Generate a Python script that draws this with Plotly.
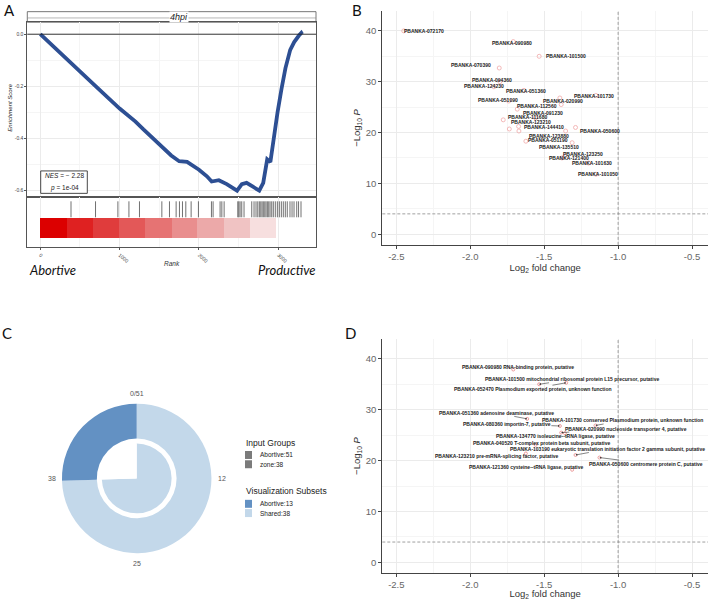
import math
import plotly.graph_objects as go

W, H = 708, 600


def PX(x):
    return x / W


def PY(y):
    return 1 - y / H


SANS = "Liberation Sans, Arial, sans-serif"
CALI = "Lato, Carlito, sans-serif"

# ---------------- Panel A : GSEA running enrichment score ----------------
rank_curve = [0, 500, 700, 1000, 1200, 1300, 1500, 1650, 1750, 1850, 2000, 2100, 2160,
              2250, 2350, 2480, 2540, 2600, 2680, 2760, 2810, 2840, 2860, 2900, 2940,
              2990, 3040, 3090, 3150, 3200, 3260, 3290, 3300]
es_curve = [0.0, -0.14, -0.2, -0.285, -0.335, -0.365, -0.425, -0.465, -0.487, -0.49, -0.52,
            -0.545, -0.565, -0.56, -0.575, -0.60, -0.575, -0.57, -0.585, -0.60, -0.57,
            -0.52, -0.48, -0.49, -0.40, -0.30, -0.21, -0.13, -0.06, -0.03, -0.005, 0.005, 0.0]
hit_ranks = [387, 696, 978, 1117, 1250, 1532, 1628, 1712, 1754, 1792, 1834, 1901, 1993,
             2157, 2178, 2266, 2288, 2317, 2489, 2502, 2518, 2539, 2568, 2665, 2694, 2719,
             2741, 2761, 2779, 2795, 2811, 2829, 2845, 2862, 2879, 2896, 2917, 2937, 2962,
             2988, 3013, 3038, 3063, 3088, 3113, 3147, 3173, 3198, 3232, 3255, 3286]
bar_edges = [0, 336, 663, 994, 1322, 1658, 1985, 2316, 2644, 2971]
bar_colors = ["#dc0000", "#df2121", "#e03c3c", "#e35858", "#e67373", "#e98e8e",
              "#eca9a9", "#f0c3c3", "#f7dfdf"]
a_xticks = [0, 1000, 2000, 3000]
a_yticks = [0.0, -0.2, -0.4, -0.6]
a_yticktext = ["0.0", "-0.2", "-0.4", "-0.6"]
nes_value = "2.28"
p_value = "1e-04"
facet_title = "4hpi"

# ---------------- Panel B : volcano, gene IDs ----------------
genes_b = ["PBANKA-072170", "PBANKA-090980", "PBANKA-101500", "PBANKA-070390",
           "PBANKA-094360", "PBANKA-124230", "PBANKA-051360", "PBANKA-101730",
           "PBANKA-020990", "PBANKA-051090", "PBANKA-112560", "PBANKA-091230",
           "PBANKA-111680", "PBANKA-123210", "PBANKA-144410", "PBANKA-050600",
           "PBANKA-123880", "PBANKA-051190", "PBANKA-135510", "PBANKA-123250",
           "PBANKA-121400", "PBANKA-101630", "PBANKA-101050"]
fc_b = [-2.45, -1.709, -1.534, -1.804, -1.80, -1.84, -1.637, -1.15, -1.394, -1.74,
        -1.682, -1.558, -1.777, -1.673, -1.355, -1.288, -1.671, -1.624, -1.311, -1.36,
        -1.38, -1.20, -1.15]
nlp_b = [40.0, 37.9, 35.0, 32.7, 30.0, 29.0, 28.3, 27.3, 26.8, 26.2, 24.6, 22.9, 22.5,
         21.2, 20.3, 21.0, 20.3, 18.3, 18.0, 15.4, 15.0, 14.0, 11.8]
lab_dx_b = [20, -1, 27, -28, -8, -10, 2, -2, 3, -11, 20, 7, 24, 12, -22, 24, 30, 22,
            -13, 18, 7, 3, 2]
lab_dy_b = [0, -1, 0, 3, 2, 1, -1, -1, -3, 1, 3, 5, 3, 4, 4, -4, -5, 1, -4, 2, 0, 0, 0]
extra_fc_b = [-1.736, -1.385]
extra_nlp_b = [20.7, 25.5]

# ---------------- Panel D : volcano, annotated genes ----------------
desc_d = ["PBANKA-090980 RNA-binding protein, putative",
          "PBANKA-101500 mitochondrial ribosomal protein L15 precursor, putative",
          "PBANKA-052470 Plasmodium exported protein, unknown function",
          "PBANKA-051360 adenosine deaminase, putative",
          "PBANKA-101730 conserved Plasmodium protein, unknown function",
          "PBANKA-080360 importin-7, putative",
          "PBANKA-020990 nucleoside transporter 4, putative",
          "PBANKA-134770 isoleucine--tRNA ligase, putative",
          "PBANKA-040520 T-complex protein beta subunit, putative",
          "PBANKA-103190 eukaryotic translation initiation factor 2 gamma subunit, putative",
          "PBANKA-123210 pre-mRNA-splicing factor, putative",
          "PBANKA-050600 centromere protein C, putative",
          "PBANKA-121360 cysteine--tRNA ligase, putative"]
fc_d = [-1.709, -1.534, -1.351, -1.615, -1.153, -1.394, -1.385, -1.36, -1.558, -1.288,
        -1.624, -1.126, -1.311]
nlp_d = [37.9, 35.0, 35.3, 28.2, 26.9, 26.8, 25.5, 25.4, 23.1, 21.1, 21.4, 20.6, 18.2]
lab_dx_d = [5, 33, -33, -31, 27, -53, 65, -9, 6, 32, -29, 47, -46]
lab_dy_d = [3, 5, -6, 6, 5, 2, 4, -3, 2, 6, -3, -6, 3]

v_xticks = [-2.5, -2.0, -1.5, -1.0, -0.5]
v_xticktext = ["-2.5", "-2.0", "-1.5", "-1.0", "-0.5"]
v_yticks = [0, 10, 20, 30, 40]
fc_cutoff = -1.0
p_cutoff = 4.0

# ---------------- Panel C : donut ----------------
outer_labels = ["Shared", "Abortive"]
outer_values = [38, 13]
outer_colors = ["#c3d8ea", "#6391c3"]
inner_labels = ["zone", "zone-absent"]
inner_values = [38, 13]
inner_colors = ["#c3d8ea", "#ffffff"]
ring_total = 51
ring_tick_vals = [0, 12.75, 25.5, 38.25]
ring_tick_text = ["0/51", "12", "25", "38"]
legend_groups = [("Input Groups", [("Abortive:51", "#7b7b7b"), ("zone:38", "#7b7b7b")]),
                 ("Visualization Subsets", [("Abortive:13", "#6391c3"), ("Shared:38", "#c3d8ea")])]

fig = go.Figure()

# --- A traces
fig.add_trace(go.Scatter(x=rank_curve, y=es_curve, mode="lines", xaxis="x", yaxis="y",
                         line=dict(color="#2d4f93", width=3.8), hoverinfo="skip",
                         showlegend=False))
hx, hy = [], []
for r in hit_ranks:
    hx += [r, r, None]
    hy += [0.594, 0.908, None]
fig.add_trace(go.Scatter(x=hx, y=hy, mode="lines", xaxis="x2", yaxis="y2",
                         line=dict(color="#333333", width=0.7), showlegend=False,
                         hoverinfo="skip"))
centers = [(a + b) / 2 for a, b in zip(bar_edges[:-1], bar_edges[1:])]
widths = [b - a for a, b in zip(bar_edges[:-1], bar_edges[1:])]
fig.add_trace(go.Bar(x=centers, y=[0.404] * len(centers), base=0.19, width=widths,
                     marker=dict(color=bar_colors, line=dict(width=0)), xaxis="x2",
                     yaxis="y2", showlegend=False, hoverinfo="skip"))

# --- B traces
fig.add_trace(go.Scatter(x=fc_b + extra_fc_b, y=nlp_b + extra_nlp_b, mode="markers",
                         xaxis="x3", yaxis="y3",
                         marker=dict(symbol="circle-open", size=4, color="#f0a8a8",
                                     line=dict(width=0.8)),
                         showlegend=False, hoverinfo="skip"))
# --- D traces
fig.add_trace(go.Scatter(x=fc_d, y=nlp_d, mode="markers", xaxis="x4", yaxis="y4",
                         marker=dict(symbol="circle-open", size=3, color="#e88888",
                                     line=dict(width=0.8)),
                         showlegend=False, hoverinfo="skip"))

# --- C pies
cx, cy, r_out, r_in = 136.7, 480, 75, 35
fig.add_trace(go.Pie(values=outer_values, labels=outer_labels, hole=40 / 75, sort=False,
                     direction="clockwise", rotation=0, textinfo="none",
                     marker=dict(colors=outer_colors, line=dict(width=0)),
                     domain=dict(x=[PX(cx - r_out), PX(cx + r_out)],
                                 y=[PY(cy + r_out), PY(cy - r_out)]),
                     showlegend=False, hoverinfo="skip"))
fig.add_trace(go.Pie(values=inner_values, labels=inner_labels, sort=False,
                     direction="clockwise", rotation=0, textinfo="none",
                     marker=dict(colors=inner_colors, line=dict(width=0)),
                     domain=dict(x=[PX(cx - r_in), PX(cx + r_in)],
                                 y=[PY(cy + r_in), PY(cy - r_in)]),
                     showlegend=False, hoverinfo="skip"))

GRID = "#ebebeb"
MINOR = "#f5f5f5"
FRAME = "#555555"

axA_x = dict(domain=[PX(27.3), PX(316)], range=[-164, 3475], showgrid=True, gridcolor=GRID,
             tickvals=a_xticks, zeroline=False, showline=True, mirror=True,
             linecolor=FRAME, linewidth=0.8,
             minor=dict(dtick=500, tick0=0, showgrid=True, gridcolor=MINOR))
layout = dict(
    width=W, height=H, margin=dict(l=0, r=0, t=0, b=0), paper_bgcolor="white",
    plot_bgcolor="white", showlegend=False, bargap=0,
    xaxis=dict(axA_x, anchor="y", showticklabels=False, ticks=""),
    yaxis=dict(domain=[PY(197.3), PY(22.3)], range=[-0.623, 0.046], tickvals=a_yticks,
               ticktext=a_yticktext, tickfont=dict(size=5, color="#444", family=SANS),
               ticks="outside", ticklen=2, tickcolor=FRAME, showgrid=True, gridcolor=GRID,
               zeroline=False, showline=True, mirror=True, linecolor=FRAME, linewidth=0.8,
               anchor="x",
               minor=dict(tickvals=[-0.1, -0.3, -0.5], showgrid=True, gridcolor=MINOR)),
    xaxis2=dict(axA_x, anchor="y2", matches="x", ticks="outside", ticklen=2,
                tickcolor=FRAME, tickangle=40,
                tickfont=dict(size=5, color="#444", family=SANS)),
    yaxis2=dict(domain=[PY(248.3), PY(197.3)], range=[0, 1], showticklabels=False,
                showgrid=False, zeroline=False, showline=True, mirror=True,
                linecolor=FRAME, linewidth=0.8, anchor="x2", ticks=""),
)

vol_x = dict(range=[-2.595, -0.392], tickvals=v_xticks, ticktext=v_xticktext,
             showgrid=True, gridcolor=GRID, zeroline=False, showline=True,
             linecolor="#444", linewidth=1, ticks="outside", ticklen=3, tickcolor="#444",
             tickfont=dict(size=9.5, color="#666", family=SANS),
             minor=dict(dtick=0.25, tick0=-2.5, showgrid=True, gridcolor=MINOR),
             title=dict(text="Log<sub>2</sub> fold change", standoff=3,
                        font=dict(size=9.5, color="#333", family=SANS)))
vol_y = dict(range=[-2.1, 43.92], tickvals=v_yticks, showgrid=True, gridcolor=GRID,
             zeroline=False, showline=True, linecolor="#444", linewidth=1,
             ticks="outside", ticklen=3, tickcolor="#444",
             tickfont=dict(size=9.5, color="#666", family=SANS),
             minor=dict(dtick=5, tick0=0, showgrid=True, gridcolor=MINOR),
             title=dict(text="−Log<sub>10</sub> <i>P</i>", standoff=3,
                        font=dict(size=9.5, color="#333", family=SANS)))
layout["xaxis3"] = dict(vol_x, domain=[PX(382.3), 1.0], anchor="y3")
layout["yaxis3"] = dict(vol_y, domain=[PY(245.7), PY(11)], anchor="x3")
layout["xaxis4"] = dict(vol_x, domain=[PX(382.3), 1.0], anchor="y4")
layout["yaxis4"] = dict(vol_y, domain=[PY(575), PY(340)], anchor="x4")

shapes = []
ann = []


def text_at(x, y, text, size, family=SANS, color="#222", xanchor="center", **kw):
    ann.append(dict(x=PX(x), y=PY(y), xref="paper", yref="paper", text=text,
                    showarrow=False, xanchor=xanchor, yanchor="middle",
                    font=dict(size=size, family=family, color=color), **kw))


# A : zero line
shapes.append(dict(type="line", xref="x domain", yref="y", x0=0, x1=1, y0=0, y1=0,
                   line=dict(color="#222", width=0.9)))
# A : facet strip
shapes.append(dict(type="rect", xref="paper", yref="paper", x0=PX(27.3), x1=PX(316),
                   y0=PY(22.3), y1=PY(11.7), line=dict(color=FRAME, width=0.8),
                   fillcolor="white", layer="below"))
shapes.append(dict(type="line", xref="paper", yref="paper", x0=PX(27.3), x1=PX(316),
                   y0=PY(18), y1=PY(18), line=dict(color="#888", width=0.6)))
text_at(179, 17, f"<i>{facet_title}</i>", 9, bgcolor="white", borderpad=0)
# A : NES box
shapes.append(dict(type="rect", xref="paper", yref="paper", x0=PX(40.7), x1=PX(87.3),
                   y0=PY(194), y1=PY(171.5), line=dict(color="#333", width=0.9),
                   fillcolor="white"))
text_at(64, 176.5, f"<i>NES</i> = − {nes_value}", 6.5)
text_at(64, 189, f"<i>p</i> = {p_value}", 6.5)
# A : axis titles and side labels
text_at(10, 108, "<i>Enrichment Score</i>", 6, textangle=-90)
text_at(172, 264, "<i>Rank</i>", 6.5, color="#333")
text_at(26.5, 271, "<i>Abortive</i>", 13, family=CALI, color="#111", xanchor="left")
text_at(318, 271, "<i>Productive</i>", 13, family=CALI, color="#111", xanchor="right")

# panel letters
for letter, lx, ly in [("A", 9, 10), ("B", 357, 10), ("C", 7, 334), ("D", 350, 334)]:
    text_at(lx, ly, letter, 15, family=CALI, color="#111")

# B / D cutoff lines
for xa, ya in [("x3", "y3"), ("x4", "y4")]:
    shapes.append(dict(type="line", xref=xa, yref=f"{ya} domain", x0=fc_cutoff, x1=fc_cutoff,
                       y0=0, y1=1, line=dict(color="#888", width=0.8, dash="3px,2px")))
    shapes.append(dict(type="line", xref=f"{xa} domain", yref=ya, x0=0, x1=1, y0=p_cutoff,
                       y1=p_cutoff, line=dict(color="#888", width=0.8, dash="3px,2px")))

# B labels
for g, x, y, dx, dy in zip(genes_b, fc_b, nlp_b, lab_dx_b, lab_dy_b):
    ann.append(dict(x=x, y=y, xref="x3", yref="y3", text=g, showarrow=False,
                    xshift=dx, yshift=dy, xanchor="center", yanchor="middle",
                    font=dict(size=5, family=SANS, color="#222", weight="bold")))
# D labels
for g, x, y, dx, dy in zip(desc_d, fc_d, nlp_d, lab_dx_d, lab_dy_d):
    ann.append(dict(x=x, y=y, xref="x4", yref="y4", text=g, showarrow=True,
                    ax=dx, ay=-dy, arrowhead=2, arrowsize=0.6, arrowwidth=0.6,
                    arrowcolor="#333", standoff=0, borderpad=0,
                    font=dict(size=5, family=SANS, color="#222", weight="bold")))

# C ring labels
for v, t in zip(ring_tick_vals, ring_tick_text):
    a = 2 * math.pi * v / ring_total
    text_at(cx + 85 * math.sin(a), cy - 85 * math.cos(a), t, 7, color="#555")

# C legend
ytop = 444
for title, items in legend_groups:
    text_at(244, ytop, title, 8.5, xanchor="left")
    yy = ytop + 8.5
    for name, col in items:
        shapes.append(dict(type="rect", xref="paper", yref="paper", x0=PX(245), x1=PX(252),
                           y0=PY(yy + 8), y1=PY(yy), fillcolor=col, line=dict(width=0)))
        text_at(257.5, yy + 4, name, 6.5, xanchor="left")
        yy += 9.3
    ytop = 493

layout["shapes"] = shapes
layout["annotations"] = ann
fig.update_layout(**layout)
fig.write_html("out.html")
